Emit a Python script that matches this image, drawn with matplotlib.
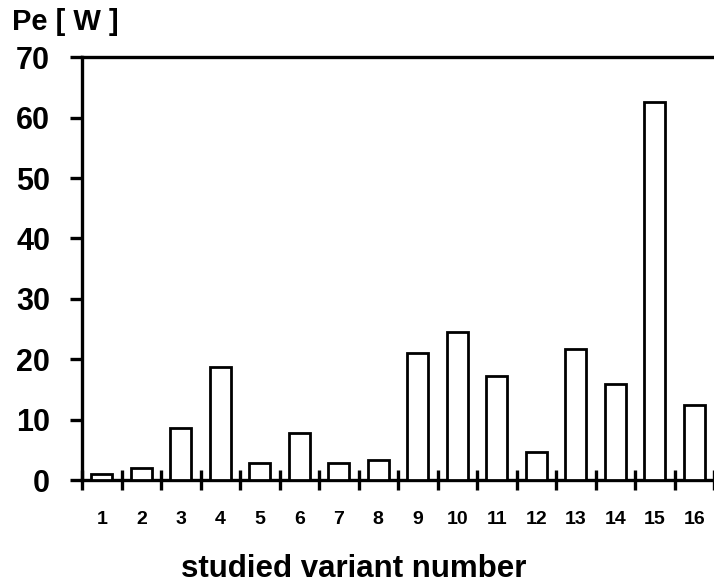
import matplotlib.pyplot as plt

plt.rcParams['font.family'] = ['Liberation Sans', 'DejaVu Sans']
plt.rcParams['font.weight'] = 'bold'

# Data
variants = list(range(1, 17))
pe_watts = [1.0, 2.0, 8.6, 18.7, 2.8, 7.8, 2.8, 3.3,
            21.0, 24.5, 17.2, 4.6, 21.7, 15.9, 62.6, 12.4]
y_ticks = [0, 10, 20, 30, 40, 50, 60, 70]

fig = plt.figure(figsize=(7.14, 5.84), dpi=100)
ax = fig.add_axes([0.115, 0.178, 0.885, 0.724])

ax.bar(variants, pe_watts, width=0.53, color='white',
       edgecolor='black', linewidth=2.0, zorder=3)

ax.set_xlim(0.5, 16.5)
ax.set_ylim(0, 70)

# Spines
for side in ['left', 'bottom', 'top']:
    ax.spines[side].set_linewidth(2.4)
ax.spines['right'].set_visible(False)

# y axis
ax.set_yticks(y_ticks)
ax.set_yticklabels([str(v) for v in y_ticks], fontsize=22, fontweight='bold')
ax.tick_params(axis='y', direction='out', length=9, width=2.4, pad=14)

# x axis: tick marks at boundaries, labels at bar centres
ax.set_xticks([v + 0.5 for v in range(0, 17)])
ax.set_xticklabels([])
ax.tick_params(axis='x', which='major', direction='inout', length=14, width=2.4)
ax.set_xticks(variants, minor=True)
ax.set_xticklabels([str(v) for v in variants], minor=True, fontsize=14,
                   fontweight='bold')
ax.tick_params(axis='x', which='minor', length=0, pad=22)

ax.set_xlabel('studied variant number', fontsize=22.5, fontweight='bold')
ax.xaxis.set_label_coords(0.43, -0.175)
fig.text(0.017, 0.962, 'Pe [ W ]', fontsize=21, fontweight='bold',
         ha='left', va='center')

fig.savefig('out.png', dpi=100)
